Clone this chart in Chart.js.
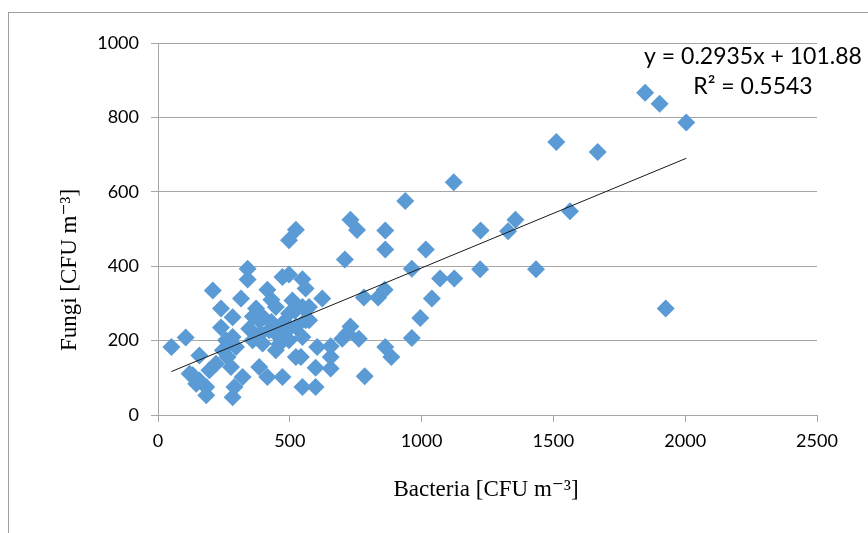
<!DOCTYPE html>
<html>
<head>
<meta charset="utf-8">
<script src="https://cdn.jsdelivr.net/npm/chart.js@4.4.1/dist/chart.umd.min.js"></script>
<style>
  html, body { margin: 0; padding: 0; background: #fff; }
  #wrap { width: 868px; height: 533px; position: relative; }
</style>
</head>
<body>
<div id="wrap"><canvas id="chart" width="868" height="533"></canvas></div>
<script>
// ===== DATA =====
const bacteria = [
  1848, 1903, 2004, 1511, 1668, 1563, 1926, 1356, 1328, 1224,
  1122, 1222, 1434, 1124, 1070, 963, 1016, 938, 1039, 995,
  963, 862, 862, 860, 835, 781, 730, 755, 709, 623,
  730, 718, 762, 699, 862, 885, 784, 655, 604, 655,
  655, 598, 598, 548, 542, 573, 548, 523, 497, 340,
  340, 208, 315, 415, 472, 239, 283, 239, 372, 51,
  105, 157, 283, 132, 157, 183, 183, 283, 290, 321,
  277, 264, 384, 415, 472, 523, 397, 560, 447, 510,
  560, 384, 346, 447, 497, 548, 573, 422, 472, 523,
  497, 447, 359, 548, 258, 246, 220, 195, 120, 145,
  296, 400, 430, 480, 520, 390, 460, 500, 430, 360,
  497
];
const fungi = [
  866, 837, 786, 734, 707, 548, 286, 525, 494, 496,
  626, 392, 392, 367, 367, 393, 445, 575, 313, 261,
  207, 496, 445, 337, 316, 316, 525, 497, 418, 313,
  238, 220, 205, 205, 183, 156, 104, 185, 183, 156,
  125, 127, 75, 75, 156, 255, 365, 498, 470, 393,
  364, 335, 313, 337, 371, 286, 263, 235, 286, 183,
  208, 160, 210, 107, 93, 53, 75, 48, 75, 102,
  129, 156, 129, 102, 102, 156, 192, 340, 290, 308,
  255, 255, 232, 174, 201, 210, 290, 228, 246, 237,
  273, 219, 201, 290, 201, 174, 138, 120, 111, 84,
  183, 262, 310, 220, 280, 220, 190, 235, 250, 265,
  378
];

// linear trendline as printed on the chart
const slope = 0.2935;
const intercept = 101.88;
const trendX = [51, 2004];

const xTicks = [0, 500, 1000, 1500, 2000, 2500];
const yTicks = [0, 200, 400, 600, 800, 1000];

const equationText = "y = 0.2935x + 101.88";
const r2Text = "R\u00B2 = 0.5543";
const xTitle = "Bacteria [CFU m\u207B\u00B3]";
const yTitle = "Fungi [CFU m\u207B\u00B3]";

// ===== BUILD DATASETS =====
const points = bacteria.map((b, i) => ({ x: b, y: fungi[i] }));
const trend = trendX.map(x => ({ x: x, y: slope * x + intercept }));

const GRID = "#a6a6a6";
const TICK_FONT = { family: "Lato, 'Open Sans', sans-serif", size: 18 };

// frame + annotations drawn on the canvas
const annotations = {
  id: "annotations",
  beforeDraw(chart) {
    const ctx = chart.ctx;
    ctx.save();
    ctx.strokeStyle = "#a0a0a0";
    ctx.lineWidth = 1;
    ctx.strokeRect(8.5, 12.5, 900, 600);
    ctx.restore();
  },
  afterDraw(chart) {
    const ctx = chart.ctx;
    ctx.save();
    ctx.fillStyle = "#000";
    ctx.textAlign = "center";
    ctx.textBaseline = "middle";
    ctx.font = "23px Lato, 'Open Sans', sans-serif";
    ctx.fillText(equationText, 753, 57);
    ctx.fillText(r2Text, 753, 87);

    ctx.font = "23px 'Liberation Serif', 'DejaVu Serif', serif";
    ctx.fillText(xTitle, 486, 490);
    ctx.translate(70, 270);
    ctx.rotate(-Math.PI / 2);
    ctx.fillText(yTitle, 0, 0);
    ctx.restore();
  }
};

new Chart(document.getElementById("chart"), {
  type: "scatter",
  data: {
    datasets: [
      {
        type: "line",
        data: trend,
        borderColor: "#1a1a1a",
        borderWidth: 1,
        pointRadius: 0,
        fill: false,
        order: 0
      },
      {
        data: points,
        pointStyle: "rectRot",
        pointRadius: 9,
        pointHoverRadius: 9,
        backgroundColor: "#5b9bd5",
        borderWidth: 0,
        order: 1
      }
    ]
  },
  options: {
    responsive: false,
    animation: false,
    events: [],
    layout: { padding: { top: 43, right: 51, left: 0, bottom: 0 } },
    plugins: {
      legend: { display: false },
      tooltip: { enabled: false }
    },
    scales: {
      x: {
        type: "linear",
        min: 0,
        max: 2500,
        afterBuildTicks: s => { s.ticks = xTicks.map(v => ({ value: v })); },
        afterFit: s => { s.height = 118; },
        grid: {
          drawOnChartArea: false,
          drawTicks: true,
          tickLength: 7,
          color: GRID
        },
        border: { color: GRID, width: 1 },
        ticks: { color: "#000", font: TICK_FONT, padding: 8, maxRotation: 0, callback: v => String(v) }
      },
      y: {
        type: "linear",
        min: 0,
        max: 1000,
        afterBuildTicks: s => { s.ticks = yTicks.map(v => ({ value: v })); },
        afterFit: s => { s.width = 158; },
        grid: {
          drawTicks: true,
          tickLength: 7,
          color: GRID
        },
        border: { color: GRID, width: 1 },
        ticks: { color: "#000", font: TICK_FONT, padding: 12, callback: v => String(v) }
      }
    }
  },
  plugins: [annotations]
});
</script>
</body>
</html>
